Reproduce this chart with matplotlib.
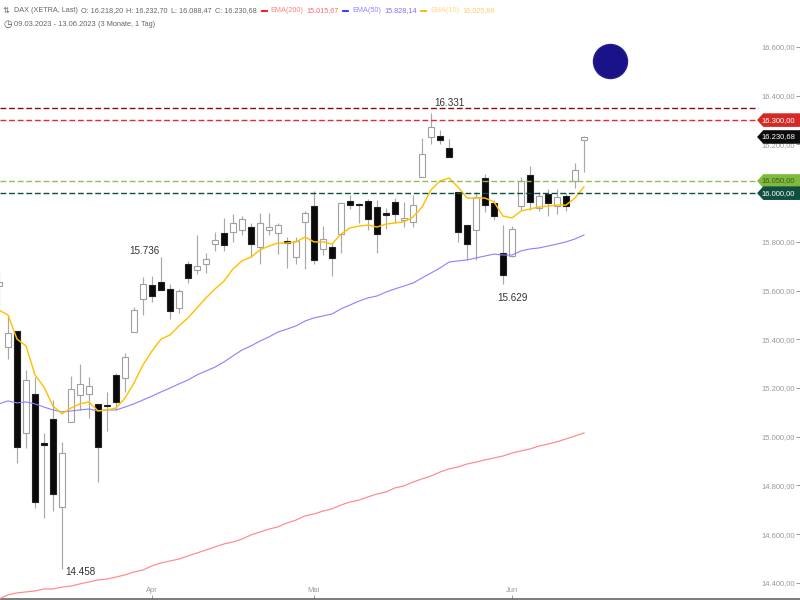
import matplotlib
matplotlib.use('Agg')
import matplotlib.pyplot as plt
from matplotlib.lines import Line2D
from matplotlib.patches import Polygon

plt.rcParams['font.family'] = ['Liberation Sans', 'DejaVu Sans']

# daily candles, 09.03.2023 - 13.06.2023
opens = [15619, 15369, 15434, 15016, 15176, 14974, 15073, 14712, 15061, 15172, 15176,
         15135, 15130, 15254, 15241, 15430, 15566, 15623, 15635, 15607, 15529, 15709,
         15685, 15709, 15791, 15837, 15841, 15849, 15861, 15779, 15849, 15837, 15804,
         15738, 15882, 15947, 15771, 15779, 15832, 15968, 15955, 15968, 15943, 15917,
         15964, 15890, 15882, 16066, 16231, 16235, 16185, 16005, 15869, 15849, 16062,
         15960, 15754, 15742, 15947, 16075, 15939, 15997, 15947, 15988, 16050, 16218.2]
highs = [15676, 15500, 15434, 15274, 15245, 15016, 15151, 14979, 15250, 15299, 15245,
         15135, 15184, 15262, 15344, 15533, 15656, 15660, 15736, 15627, 15606, 15722,
         15828, 15754, 15841, 15898, 15915, 15906, 15878, 15919, 15919, 15878, 15820,
         15820, 15925, 16009, 15865, 15795, 15960, 15993, 15960, 15976, 15972, 15939,
         15980, 15964, 15993, 16227, 16331, 16259, 16222, 16005, 15869, 16005, 16079,
         15972, 15869, 15865, 16066, 16112, 16005, 16017, 16017, 16001, 16124, 16232.7]
lows = [15533, 15319, 14892, 14954, 14708, 14667, 14695, 14458, 15061, 15110, 15077,
        14814, 15024, 15110, 15184, 15430, 15500, 15553, 15603, 15484, 15508, 15631,
        15668, 15672, 15763, 15763, 15800, 15828, 15738, 15709, 15828, 15750, 15693,
        15709, 15689, 15709, 15746, 15660, 15754, 15935, 15878, 15849, 15754, 15853,
        15878, 15861, 15861, 16066, 16202, 16202, 16149, 15800, 15726, 15726, 15923,
        15890, 15629, 15738, 15931, 15931, 15927, 15906, 15915, 15927, 16021, 16088.47]
closes = [15635, 15426, 14958, 15233, 14732, 14966, 14765, 14933, 15196, 15217, 15208,
          14958, 15126, 15143, 15328, 15520, 15627, 15578, 15603, 15516, 15598, 15652,
          15701, 15730, 15808, 15787, 15878, 15894, 15791, 15878, 15861, 15869, 15795,
          15804, 15919, 15726, 15812, 15734, 15960, 15951, 15951, 15894, 15832, 15912,
          15915, 15898, 15951, 16161, 16272, 16218, 16149, 15841, 15791, 15984, 15951,
          15906, 15664, 15853, 16050, 15964, 15988, 15960, 15984, 15947, 16095, 16230.68]

ema10 = [15520, 15500, 15401, 15373, 15254, 15204, 15126, 15094, 15118, 15135, 15143,
         15106, 15110, 15118, 15159, 15221, 15295, 15352, 15401, 15418, 15455, 15488,
         15529, 15570, 15607, 15639, 15689, 15722, 15738, 15767, 15783, 15795, 15795,
         15800, 15820, 15800, 15800, 15791, 15832, 15857, 15865, 15869, 15861, 15873,
         15878, 15882, 15902, 15943, 16013, 16050, 16062, 16025, 15980, 15980, 15980,
         15964, 15906, 15898, 15927, 15935, 15943, 15947, 15951, 15951, 15980, 16025.88]
ema50 = [15135, 15147, 15139, 15143, 15135, 15122, 15110, 15102, 15106, 15110, 15114,
         15106, 15110, 15110, 15122, 15135, 15151, 15167, 15184, 15200, 15217, 15233,
         15254, 15270, 15286, 15307, 15332, 15356, 15373, 15393, 15410, 15430, 15442,
         15455, 15475, 15488, 15496, 15504, 15525, 15541, 15557, 15570, 15578, 15594,
         15607, 15619, 15631, 15652, 15672, 15693, 15717, 15722, 15726, 15734, 15742,
         15750, 15746, 15746, 15763, 15771, 15775, 15783, 15791, 15800, 15812, 15828.14]
ema200 = [14334, 14351, 14359, 14363, 14367, 14375, 14375, 14383, 14387, 14396, 14404,
          14412, 14416, 14424, 14433, 14445, 14453, 14470, 14482, 14490, 14498, 14511,
          14523, 14535, 14548, 14560, 14568, 14580, 14597, 14609, 14621, 14630, 14646,
          14658, 14675, 14683, 14695, 14704, 14720, 14732, 14740, 14753, 14765, 14773,
          14790, 14798, 14814, 14827, 14839, 14855, 14868, 14876, 14888, 14896, 14905,
          14913, 14921, 14933, 14942, 14950, 14962, 14970, 14979, 14991, 15003, 15015.67]

month_days = [17, 35, 57]
month_names = ['Apr', 'Mai', 'Jun']
# 16.000 is covered by its price tag
price_ticks = [14400, 14600, 14800, 15000, 15200, 15400, 15600, 15800, 16200, 16400, 16600]

# horizontal levels: price, line colour, tag colour, tag text colour, tag text
levels = [
    (16350, '#8b0a1a', None, None, None),
    (16300, '#d9302c', '#d32a26', 'white', '16.300,00'),
    (16050, '#8cc152', '#7fba3c', '#3d5a1e', '16.050,00'),
    (16000, '#0f4f42', '#0f4f42', 'white', '16.000,00'),
]
last_price = 16230.68
last_label = '16.230,68'

# extreme labels: x in candle steps, price level of the text, text
extremes = [(50, 16372, '16.331'), (16.1, 15764, '15.736'), (57, 15571, '15.629'), (9, 14445, '14.458')]


def de_price(v):
    return f'{v:,.2f}'.replace(',', 'x').replace('.', ',').replace('x', '.')


def px(x, y):
    # picture pixels to figure fractions
    return x / 800, 1 - y / 600


fig = plt.figure(figsize=(8, 6), dpi=100)
ax = fig.add_axes([0, 1.5 / 600, 1, 598.5 / 600])
ax.set_xlim(1 / 9, 89)
ax.set_ylim(14336, 16793)

# candles
for i in range(len(opens)):
    up = closes[i] >= opens[i]
    ax.vlines(i, lows[i], highs[i], color='#a8a8a8', lw=0.85, zorder=2)
    bottom = min(opens[i], closes[i])
    height = abs(closes[i] - opens[i])
    ax.bar(i, height, bottom=bottom, width=0.62, zorder=3,
           color='white' if up else '#0a0a0a',
           edgecolor='#a0a0a0' if up else '#222222', linewidth=0.8)

days = range(len(ema10))
ax.plot(days, ema200, color='#ff8888', lw=0.85, zorder=4)
ax.plot(days, ema50, color='#8a80ff', lw=0.8, zorder=4)
ax.plot(days, ema10, color='#ffc107', lw=1.05, zorder=4)

# blue dot
ax.plot([67.9], [16544], 'o', color='#1a1288', ms=24.5, mec='#26208f', zorder=5)

# levels with price tags on the right
trans = ax.get_yaxis_transform()
for price, line_col, tag_col, text_col, tag in levels:
    ax.plot([0, 0.9475], [price, price], transform=trans, color=line_col, lw=1.0,
            dashes=(4.2, 2.0), zorder=5)
    if tag is None:
        continue
    ax.add_patch(Polygon([(0.9475, price), (0.9545, price + 25), (1, price + 25),
                          (1, price - 25), (0.9545, price - 25)],
                         transform=trans, color=tag_col, zorder=6, clip_on=False))
    ax.text(0.994, price, tag, transform=trans, color=text_col, fontsize=5.5,
            ha='right', va='center', zorder=7)

ax.add_patch(Polygon([(0.9475, last_price), (0.9545, last_price + 25), (1, last_price + 25),
                      (1, last_price - 25), (0.9545, last_price - 25)],
                     transform=trans, color='#0c0c0c', zorder=6))
ax.text(0.994, last_price, last_label, transform=trans, color='white', fontsize=5.5,
        ha='right', va='center', zorder=7)

for x, level, text in extremes:
    ax.text(x, level, text, color='#333333', fontsize=7.1, ha='center', va='center', zorder=5)

# axes: ticks and labels sit inside the picture
for side in ['top', 'left', 'right']:
    ax.spines[side].set_visible(False)
ax.spines['bottom'].set_color('#666666')
ax.spines['bottom'].set_linewidth(1.2)

ax.set_xticks(month_days)
ax.set_xticklabels(month_names)
ax.tick_params(axis='x', direction='in', length=3, width=0.7, color='#999999',
               labelcolor='#999999', labelsize=5.4, pad=-3.2)
for lab in ax.get_xticklabels():
    lab.set_va('bottom')

ax.set_yticks(price_ticks)
ax.set_yticklabels([de_price(p) for p in price_ticks])
ax.tick_params(axis='y', direction='in', length=3, width=0.7, color='#999999', left=False,
               labelleft=False, right=True, labelright=True, labelcolor='#999999',
               labelsize=5.5, pad=-3.5)
for lab in ax.get_yticklabels():
    lab.set_ha('right')

# header, two rows
row1 = [
    (14, 'DAX (XETRA, Last)', '#666666'),
    (81, 'O: 16.218,20', '#666666'),
    (126, 'H: 16.232,70', '#666666'),
    (171, 'L: 16.088,47', '#666666'),
    (215, 'C: 16.230,68', '#666666'),
    (270, 'EMA(200)', '#ff8080'),
    (306, '15.015,67', '#ff6670'),
    (352, 'EMA(50)', '#8f88ff'),
    (384, '15.828,14', '#7a70ff'),
    (430, 'EMA(10)', '#ffd98a'),
    (462, '16.025,88', '#ffd070'),
]
for x, text, col in row1:
    fig.text(*px(x, 10.5), text, color=col, fontsize=5.25, va='center')
fig.text(*px(14, 24), '09.03.2023 - 13.06.2023', color='#666666', fontsize=5.4, va='center')
fig.text(*px(98, 24), '(3 Monate, 1 Tag)', color='#666666', fontsize=5.3, va='center')
fig.text(*px(3, 10.5), '\u21c5', color='#666666', fontsize=6, va='center', family='DejaVu Sans')
fig.text(*px(3, 24), '\u25f7', color='#555555', fontsize=7, va='center', family='DejaVu Sans')

for x0, col in [(262, '#ff0000'), (343, '#2a2aff'), (421, '#ffb000')]:
    x1, y1 = px(x0, 10.5)
    x2, y2 = px(x0 + 5, 10.5)
    fig.add_artist(Line2D([x1, x2], [y1, y2], color=col, lw=1.3))

fig.savefig('out.png', dpi=100)
